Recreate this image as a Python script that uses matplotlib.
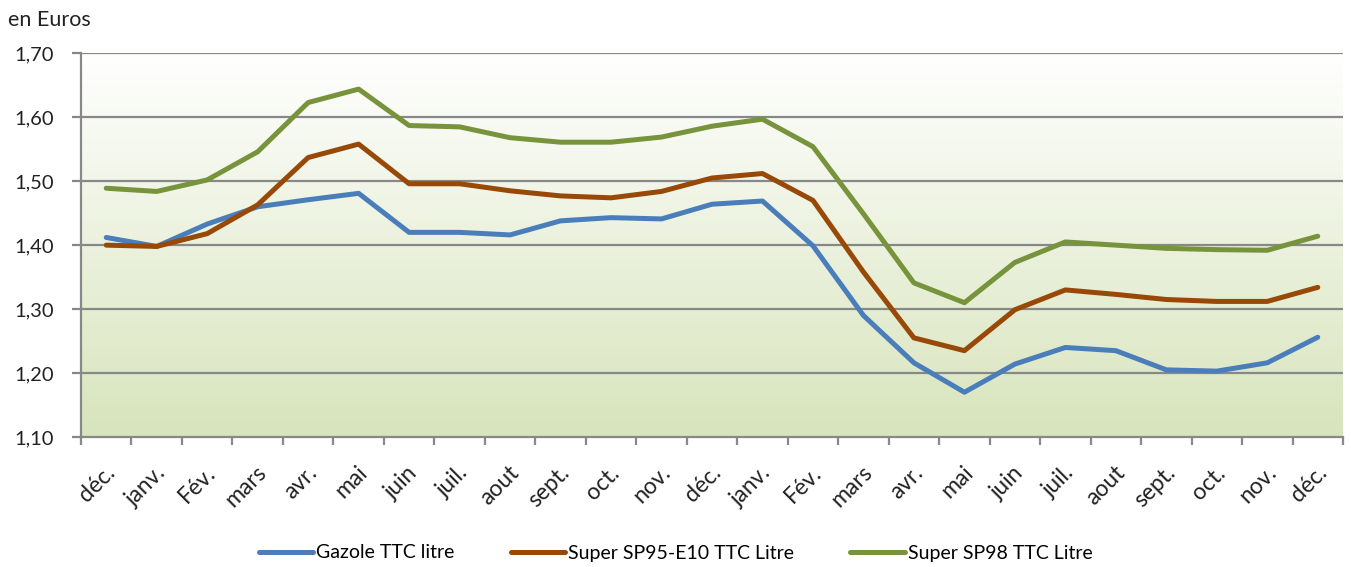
import matplotlib
matplotlib.use("Agg")
import matplotlib.pyplot as plt
import matplotlib.transforms as mtransforms
import numpy as np
from matplotlib.colors import LinearSegmentedColormap

plt.rcParams['font.family'] = ['Lato', 'DejaVu Sans']

months = ["déc.", "janv.", "Fév.", "mars", "avr.", "mai", "juin", "juil.", "aout",
          "sept.", "oct.", "nov.", "déc.", "janv.", "Fév.", "mars", "avr.", "mai",
          "juin", "juil.", "aout", "sept.", "oct.", "nov.", "déc."]

gazole = [1.412, 1.398, 1.433, 1.460, 1.471, 1.481, 1.420, 1.420, 1.416, 1.438,
          1.443, 1.441, 1.464, 1.469, 1.399, 1.290, 1.216, 1.170, 1.214, 1.240,
          1.235, 1.205, 1.203, 1.216, 1.256]
sp95 = [1.400, 1.398, 1.418, 1.463, 1.537, 1.558, 1.496, 1.496, 1.485, 1.477,
        1.474, 1.484, 1.505, 1.512, 1.470, 1.358, 1.255, 1.235, 1.299, 1.330,
        1.323, 1.315, 1.312, 1.312, 1.334]
sp98 = [1.489, 1.484, 1.502, 1.546, 1.623, 1.644, 1.587, 1.585, 1.568, 1.561,
        1.561, 1.569, 1.586, 1.597, 1.554, 1.449, 1.341, 1.310, 1.373, 1.405,
        1.400, 1.395, 1.393, 1.392, 1.414]

series_names = ["Gazole TTC litre", "Super SP95-E10 TTC Litre", "Super SP98 TTC Litre"]
series_colors = ["#4A7EBB", "#984807", "#77933C"]
y_ticks = [1.10, 1.20, 1.30, 1.40, 1.50, 1.60, 1.70]

W, H = 1351, 567
fig = plt.figure(figsize=(W / 100, H / 100), dpi=100)
ax = fig.add_axes([81 / W, 1 - 437 / H, (1343 - 81) / W, (437 - 53.3) / H])

n = len(months)
x = np.arange(n)
ax.set_xlim(-0.5, n - 0.5)
ax.set_ylim(1.10, 1.70)

# vertical gradient background of the plot area
grad = LinearSegmentedColormap.from_list("bg", ["#D8E4BC", "#FFFFFF"])
ax.imshow(np.linspace(0, 1, 256).reshape(-1, 1), cmap=grad, origin="lower",
          aspect="auto", extent=(-0.5, n - 0.5, 1.10, 1.70), zorder=0)

for yv in y_ticks[1:]:
    ax.axhline(yv, color="#888888", lw=1.6, zorder=1)

for vals, name, col in zip([gazole, sp95, sp98], series_names, series_colors):
    ax.plot(x, vals, color=col, lw=3.6, label=name, zorder=3,
            solid_joinstyle="round", solid_capstyle="round")

for side in ["top", "right"]:
    ax.spines[side].set_visible(False)
for side in ["left", "bottom"]:
    ax.spines[side].set_color("#888888")
    ax.spines[side].set_linewidth(1.6)

ax.set_yticks(y_ticks)
ax.set_yticklabels([f"{v:.2f}".replace(".", ",") for v in y_ticks], fontsize=14.5, color="#222222")
ax.tick_params(axis="y", length=6.5, width=1.6, color="#888888", pad=13)

# category ticks at boundaries, labels at the centres
ax.set_xticks(np.arange(n + 1) - 0.5)
ax.set_xticklabels([])
ax.tick_params(axis="x", length=6, width=1.6, color="#888888")
ax.set_xticks(x, minor=True)
ax.set_xticklabels(months, minor=True, fontsize=16.5, color="#222222",
                   rotation=45, ha="right", va="top", rotation_mode="anchor")
ax.tick_params(axis="x", which="minor", length=0, pad=18)
offset = mtransforms.ScaledTranslation(-2 / 100, 0, fig.dpi_scale_trans)
for lbl in ax.get_xticklabels(minor=True):
    lbl.set_transform(lbl.get_transform() + offset)

fig.text(8 / W, 1 - 20 / H, "en Euros", fontsize=15.5, color="#222222", va="center", ha="left")

fig.legend(loc="center", bbox_to_anchor=(0.5, 1 - 553 / H), ncol=3, frameon=False,
           fontsize=14, handlelength=2.8, handletextpad=0.15, columnspacing=2.9)

fig.savefig("out.png", dpi=100)
